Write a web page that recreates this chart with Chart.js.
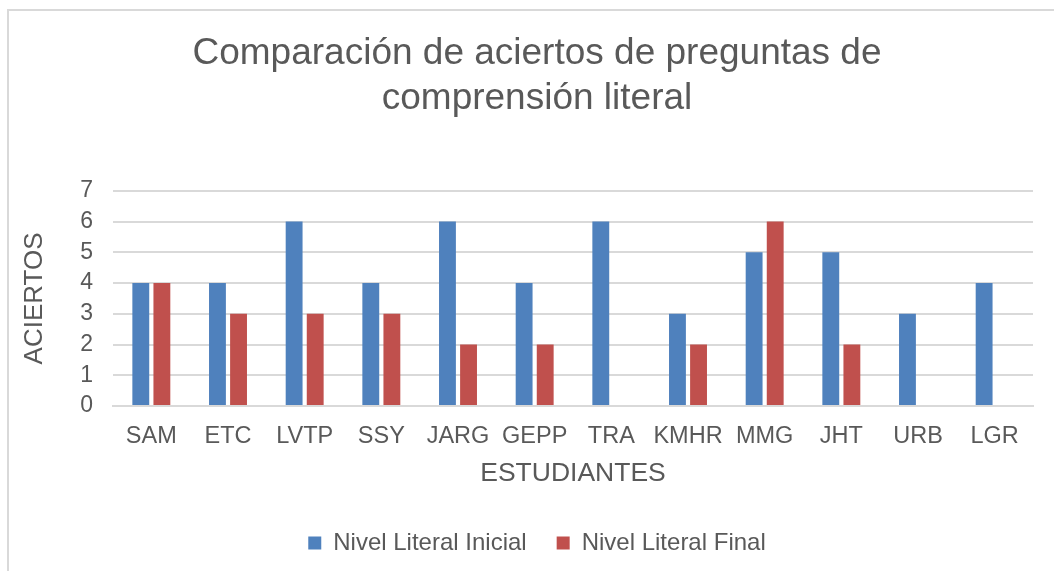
<!DOCTYPE html>
<html>
<head>
<meta charset="utf-8">
<script src="https://cdn.jsdelivr.net/npm/chart.js@4.4.1/dist/chart.umd.min.js"></script>
<style>
    body { margin: 0; background: #fff; overflow: hidden; }
    #marco {
        position: absolute; left: 7px; top: 9px;
        width: 1200px; height: 700px;
        border: 2px solid #d9d9d9;
    }
    /* el gráfico original sigue un poco más allá del borde derecho */
    #contenedor { position: absolute; left: 0; top: 0; width: 1074px; height: 571px; }
</style>
</head>
<body>
<div id="marco"></div>
<div id="contenedor"><canvas id="grafico"></canvas></div>
<script>
const estudiantes = ['SAM', 'ETC', 'LVTP', 'SSY', 'JARG', 'GEPP', 'TRA', 'KMHR', 'MMG', 'JHT', 'URB', 'LGR'];
const nivelInicial = [4, 4, 6, 4, 6, 4, 6, 3, 5, 5, 3, 4];
const nivelFinal = [4, 3, 3, 3, 2, 2, 0, 2, 6, 2, 0, 0];
const ticksY = [0, 1, 2, 3, 4, 5, 6, 7];

const gris = '#595959';
Chart.defaults.font.family = '"Liberation Sans", Arial, sans-serif';
Chart.defaults.color = gris;

const ctx = document.getElementById('grafico').getContext('2d');
new Chart(ctx, {
    type: 'bar',
    data: {
        labels: estudiantes,
        datasets: [
            {
                label: 'Nivel Literal Inicial',
                data: nivelInicial,
                backgroundColor: '#4f81bd',
                categoryPercentage: 0.55,
                barPercentage: 0.8
            },
            {
                label: 'Nivel Literal Final',
                data: nivelFinal,
                backgroundColor: '#c0504d',
                categoryPercentage: 0.55,
                barPercentage: 0.8
            }
        ]
    },
    options: {
        responsive: true,
        maintainAspectRatio: false,
        animation: false,
        layout: { padding: { left: 10, right: 10, top: 32, bottom: 6 } },
        plugins: {
            title: {
                display: true,
                text: ['Comparación de aciertos de preguntas de', 'comprensión literal'],
                font: { size: 37, weight: 'normal' },
                color: gris,
                lineHeight: 1.16,
                padding: { top: 0, bottom: 70 }
            },
            legend: {
                position: 'bottom',
                labels: {
                    boxWidth: 13,
                    boxHeight: 13,
                    font: { size: 24 },
                    padding: 30
                }
            },
            tooltip: { enabled: false }
        },
        scales: {
            x: {
                grid: { display: false },
                border: { color: '#d9d9d9', width: 2 },
                ticks: { font: { size: 23.5 }, color: gris, padding: 8, maxRotation: 0 },
                title: { display: true, text: 'ESTUDIANTES', font: { size: 26.5 }, color: gris, padding: { top: 0, bottom: 11 } }
            },
            y: {
                min: 0,
                max: 7,
                afterBuildTicks(scale) { scale.ticks = ticksY.map(v => ({ value: v })); },
                afterFit(scale) { scale.width = 103; },
                grid: { color: '#d9d9d9', lineWidth: 2, drawTicks: false },
                border: { display: false },
                ticks: { font: { size: 23 }, color: gris, padding: 20, autoSkip: false },
                title: { display: true, text: 'ACIERTOS', font: { size: 26 }, color: gris, padding: { top: 9, bottom: 0 } }
            },
            // margen vacío a la derecha del área de trazado
            margenDer: {
                position: 'right',
                min: 0,
                max: 7,
                afterFit(scale) { scale.width = 31; },
                grid: { display: false },
                border: { display: false },
                ticks: { display: false }
            }
        }
    }
});
</script>
</body>
</html>
